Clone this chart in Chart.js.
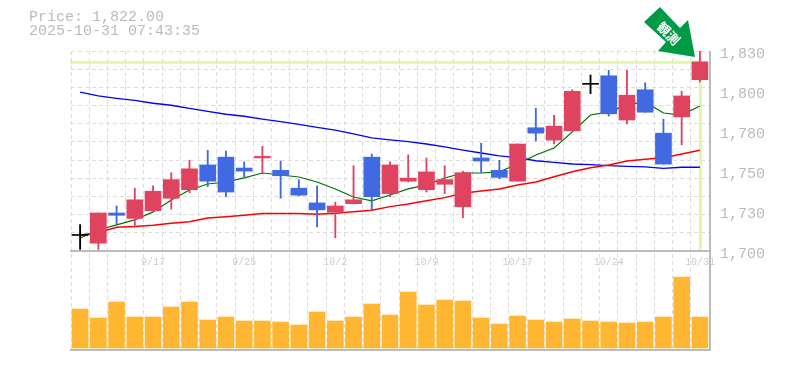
<!DOCTYPE html>
<html>
<head>
<meta charset="utf-8">
<script src="https://cdn.jsdelivr.net/npm/chart.js@4"></script>
<style>
    html, body { margin: 0; padding: 0; background: #fff; overflow: hidden; }
    #wrap { position: relative; width: 785px; height: 370px; }
    #priceText { position: absolute; left: 29px; top: 11px; font: 15px/14px "Liberation Mono", monospace; color: #bbb; white-space: pre; }
    #arrow { position: absolute; left: 0; top: 0; }
</style>
</head>
<body>
<div id="wrap">
    <canvas id="stockChart" width="785" height="370"></canvas>
    <div id="priceText"></div>
    <svg id="arrow" width="785" height="70">
        <polygon points="660,7 644,22 666,42 658,51 695,57 688,20 680,28" fill="#009944"></polygon>
        <text id="arrowText" transform="translate(669,33) rotate(45)" text-anchor="middle" dominant-baseline="central" fill="#fff" font-family="Noto Sans CJK JP" font-weight="700" font-size="13"></text>
    </svg>
</div>
<script>
const priceLabel = 'Price: 1,822.00';
const timeLabel = '2025-10-31 07:43:35';
const arrowLabel = '観測';
const lastPrice = 1822;

const dates = ['9/10', '9/11', '9/12', '9/16', '9/17', '9/18', '9/19', '9/22', '9/24', '9/25', '9/26', '9/29', '9/30', '10/1', '10/2', '10/3', '10/6', '10/7', '10/8', '10/9', '10/10', '10/14', '10/15', '10/16', '10/17', '10/20', '10/21', '10/22', '10/23', '10/24', '10/27', '10/28', '10/29', '10/30', '10/31'];
const shownDates = ['9/17', '9/25', '10/2', '10/9', '10/17', '10/24', '10/31'];

const opens = [1710, 1705, 1724.5, 1721, 1726, 1734, 1739.5, 1755.5, 1760.5, 1753.5, 1760, 1752, 1740.5, 1731, 1725, 1730.5, 1760.5, 1737, 1745, 1739.5, 1743, 1728.5, 1760, 1752, 1745, 1779.5, 1771.5, 1777.5, 1807.5, 1813, 1784.5, 1804, 1776, 1786.5, 1810.5];
const closes = [1710, 1724.5, 1723, 1733, 1738.5, 1746, 1753, 1745, 1738, 1751.5, 1761, 1748.5, 1736, 1726.5, 1729, 1733, 1735, 1755.5, 1747, 1751, 1746, 1750.5, 1758, 1747.5, 1769, 1776, 1780.5, 1803, 1807.5, 1788.5, 1800.5, 1789.5, 1756, 1800, 1822];
const highs = [1717, 1724.5, 1729, 1740.5, 1742, 1750.5, 1758.5, 1765, 1764.5, 1757.5, 1767.5, 1758, 1746, 1742, 1731.5, 1755, 1762.5, 1757.5, 1762, 1760, 1755, 1751.5, 1769.5, 1758.5, 1769, 1792, 1787.5, 1804, 1813.5, 1816.5, 1816.5, 1808.5, 1785, 1803, 1829.6];
const lows = [1701, 1701, 1717.5, 1715.5, 1726, 1727, 1737.5, 1741.5, 1735, 1747.5, 1750.5, 1734, 1735.5, 1715.5, 1708.5, 1730.5, 1726.5, 1735, 1744.5, 1738, 1737, 1721.5, 1750.5, 1746.5, 1745, 1771, 1769, 1777.5, 1801.5, 1787, 1782, 1789.5, 1756, 1768.5, 1809];

const maShort = [1708.4, 1713.5, 1716.8, 1720, 1725.2, 1732.9, 1739.3, 1743.2, 1744.5, 1747.1, 1750.3, 1749, 1747.7, 1744.5, 1740, 1734.8, 1732.3, 1736.1, 1740, 1742.6, 1747.1, 1750.3, 1750.3, 1751, 1756.1, 1761.9, 1766.4, 1776.8, 1787.7, 1789.7, 1794.2, 1796.1, 1789, 1787.7, 1793.5];
const maMiddle = [1710.3, 1711.8, 1715.3, 1715.7, 1716.6, 1717.9, 1718.9, 1721.3, 1722.1, 1723, 1724.1, 1724.1, 1724.1, 1723.7, 1724.3, 1725.3, 1726.3, 1728.6, 1730.3, 1732.4, 1734.4, 1737.2, 1738.7, 1740, 1742.6, 1744.5, 1747.9, 1751.1, 1753.7, 1755.5, 1758, 1759.1, 1760.2, 1762.6, 1765];
const maLong = [1802.4, 1800, 1798.5, 1797.2, 1795.3, 1794, 1792, 1790.1, 1788.2, 1786.9, 1785.1, 1783.5, 1781.6, 1779.7, 1778, 1775.5, 1772.9, 1771.6, 1770.5, 1769, 1767.1, 1765.1, 1763.2, 1761.3, 1760.2, 1758.2, 1757.2, 1756.1, 1755.7, 1755, 1754.6, 1754.2, 1753.3, 1754, 1754];
const volumes = [390, 300, 460, 310, 310, 410, 460, 280, 310, 270, 270, 260, 230, 360, 270, 310, 440, 330, 560, 430, 480, 470, 300, 240, 320, 280, 260, 290, 270, 260, 250, 260, 310, 710, 310];

const yTickValues = [1700, 1725.8, 1751.6, 1777.4, 1803.2, 1829];
const yTickLabels = ['1,700', '1,730', '1,750', '1,780', '1,800', '1,830'];

document.getElementById('priceText').textContent = priceLabel + '\n' + timeLabel;
document.getElementById('arrowText').textContent = arrowLabel;

function candleColor(i) {
    if (closes[i] > opens[i]) return '#e04360';
    if (closes[i] < opens[i]) return '#4169e1';
    return '#000000';
}

const lastPriceLines = {
    id: 'lastPriceLines',
    beforeDatasetsDraw(chart) {
        const ctx = chart.ctx;
        const area = chart.chartArea;
        const y = chart.scales.y;
        const x = chart.scales.x;
        ctx.save();
        ctx.fillStyle = '#e3f5a8';
        ctx.fillRect(area.left - 1, y.getPixelForValue(lastPrice) - 1, area.right - area.left - 1, 3);
        const px = x.getPixelForValue(dates.length - 1);
        ctx.fillRect(px - 1, area.top, 3, y.getPixelForValue(1700) - area.top);
        ctx.restore();
    },
    afterDraw(chart) {
        const ctx = chart.ctx;
        const area = chart.chartArea;
        const axisY = chart.scales.y.getPixelForValue(1700);
        ctx.save();
        ctx.fillStyle = '#bbbbbb';
        ctx.fillRect(area.left - 1, Math.round(axisY) - 1, area.right - area.left + 2, 2);
        ctx.fillRect(area.left - 1, area.bottom - 1, area.right - area.left + 3, 2);
        ctx.fillRect(area.right, area.top, 2, area.bottom - area.top);
        ctx.restore();
    }
};

new Chart(document.getElementById('stockChart').getContext('2d'), {
    data: {
        labels: dates,
        datasets: [
            {
                type: 'bar',
                data: opens.map((o, i) => [o, closes[i]]),
                backgroundColor: (c) => candleColor(c.dataIndex),
                barThickness: 16,
                minBarLength: 1,
                grouped: false,
                order: 1
            },
            {
                type: 'bar',
                data: lows.map((l, i) => [l, highs[i]]),
                backgroundColor: (c) => candleColor(c.dataIndex),
                barThickness: 1.2,
                grouped: false,
                order: 2
            },
            {
                type: 'line',
                data: maShort,
                borderColor: '#007000',
                borderWidth: 1.2,
                pointRadius: 0,
                order: 3
            },
            {
                type: 'line',
                data: maMiddle,
                borderColor: '#ff0000',
                borderWidth: 1.5,
                pointRadius: 0,
                order: 3
            },
            {
                type: 'line',
                data: maLong,
                borderColor: '#0000ff',
                borderWidth: 1.3,
                pointRadius: 0,
                order: 3
            },
            {
                type: 'bar',
                data: volumes,
                yAxisID: 'volume',
                backgroundColor: '#ffb733',
                barThickness: 16,
                grouped: false,
                order: 4
            }
        ]
    },
    options: {
        responsive: false,
        animation: false,
        layout: { padding: { left: 71, top: 51, right: 0, bottom: 20 } },
        plugins: { legend: { display: false }, tooltip: { enabled: false } },
        scales: {
            x: {
                position: { y: 1700 },
                offset: true,
                grid: { color: '#dcdcdc', lineWidth: 1, drawTicks: false },
                border: { display: false, dash: [4, 3] },
                ticks: {
                    autoSkip: false,
                    maxRotation: 0,
                    padding: 5,
                    color: '#cccccc',
                    font: { family: 'Liberation Mono', size: 10 },
                    callback: (value, index) => shownDates.includes(dates[index]) ? dates[index] : ''
                }
            },
            y: {
                position: 'right',
                min: 1636.1,
                max: 1829,
                afterBuildTicks(scale) {
                    const ticks = [];
                    for (let k = 0; k < 12; k++) {
                        ticks.push({ value: 1829 - k * 129 / 11 });
                    }
                    scale.ticks = ticks;
                },
                afterFit(scale) { scale.width = 0; },
                grid: { color: '#dcdcdc', lineWidth: 1, drawTicks: false },
                border: { display: false, dash: [4, 3] },
                ticks: { display: false }
            },
            yLabels: {
                position: 'right',
                min: 1636.1,
                max: 1829,
                afterBuildTicks(scale) {
                    // labels sit 2-3px under the nominal value in the original
                    scale.ticks = yTickValues.map((v) => ({ value: v - 2 }));
                },
                afterFit(scale) { scale.width = 76; },
                grid: { drawOnChartArea: false, drawTicks: false },
                border: { display: false },
                ticks: {
                    padding: 11,
                    color: '#bbbbbb',
                    font: { family: 'Liberation Mono', size: 15 },
                    callback: (value, index) => yTickLabels[index]
                }
            },
            volume: {
                display: false,
                min: -20,
                max: 2970
            }
        }
    },
    plugins: [lastPriceLines]
});
</script>
</body>
</html>
